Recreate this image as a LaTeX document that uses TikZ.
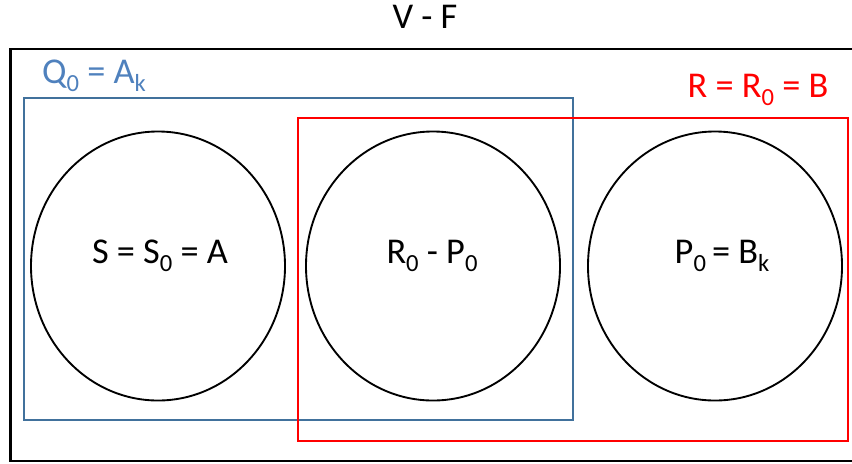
\documentclass[tikz,border=0pt]{standalone}
\usepackage{fontspec}
\setmainfont{Carlito}
\usetikzlibrary{shapes.geometric,positioning}
\definecolor{setblue}{HTML}{41719C}
\definecolor{labelblue}{HTML}{4F81BD}
\definecolor{setred}{HTML}{FF0000}
\newcommand{\lowsub}[1]{\raisebox{-7pt}{\fontsize{21}{23}\selectfont #1}}

\begin{document}
\begin{tikzpicture}[x=0.03cm,y=-0.03cm,
  font=\fontsize{31}{37}\selectfont,
  setcircle/.style={draw,ellipse,line width=1.6pt,minimum width=7.62cm,minimum height=8.07cm,inner sep=0pt},
  txt/.style={anchor=base,inner sep=0pt}]
\useasboundingbox (0,0) rectangle (852,463);
% universe V - F
\draw[line width=1.8pt] (10.5,49) rectangle (880,461);
\node[txt] (title) at (425,28) {V - F};
% the three sets
\node[setcircle] (left) at (158,266) {};
\node[setcircle] (mid) at (433,266) {};
\node[setcircle] (right) at (715,266) {};
\node[txt] (lefttxt) at (160,263) {S = S\lowsub{0} = A};
\node[txt] (midtxt) at (432,263) {R\lowsub{0} - P\lowsub{0}};
\node[txt] (righttxt) at (722,263) {P\lowsub{0}\,= B\lowsub{k}};
% Q_0 box
\draw[setblue,line width=1.2pt] (24,98) rectangle (573,420);
\node[txt,labelblue] (qlabel) at (94,83) {Q\lowsub{0} = A\lowsub{k}};
% R box
\draw[setred,line width=1.2pt] (298,118) rectangle (848,441);
\node[txt,setred] (rlabel) at (758,97) {R = R\lowsub{0} = B};
\end{tikzpicture}
\end{document}
